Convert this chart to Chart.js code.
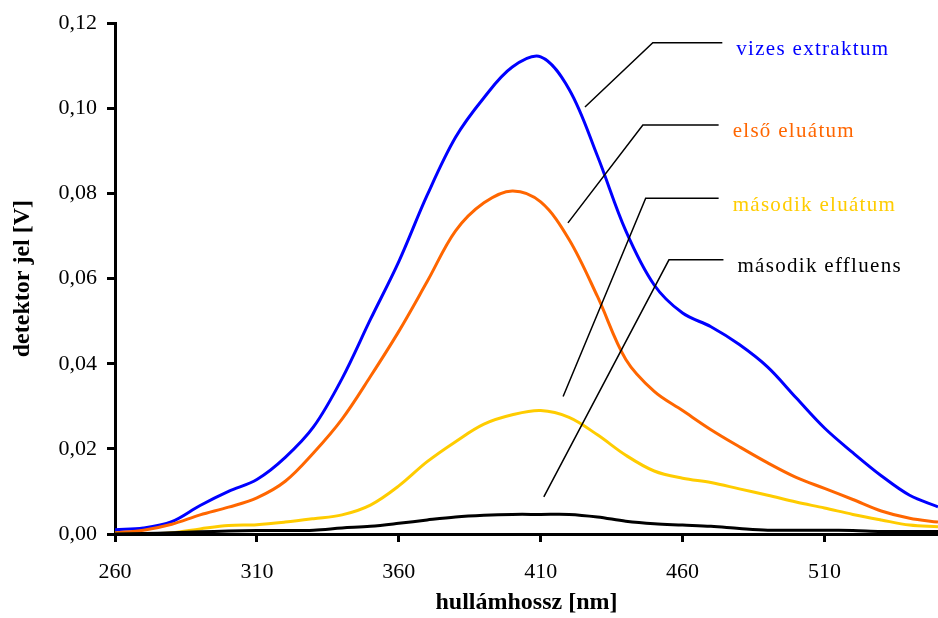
<!DOCTYPE html>
<html lang="hu">
<head>
<meta charset="utf-8">
<title>detektor jel</title>
<script src="https://cdn.jsdelivr.net/npm/chart.js@4/dist/chart.umd.min.js"></script>
<style>
  html, body { margin: 0; padding: 0; background: #fff; }
  #wrap { width: 938px; height: 618px; }
</style>
</head>
<body>
<div id="wrap"><canvas id="chart" width="938" height="618"></canvas></div>
<script>
// hullámhossz [nm]
const wavelengths = [260, 270, 280, 290, 300, 310, 320, 330, 340, 350, 360, 370, 380, 390, 400,
    410, 420, 430, 440, 450, 460, 470, 480, 490, 500, 510, 520, 530, 540, 550];

const vizesExtraktum = [0.0010, 0.0014, 0.0029, 0.0067, 0.0100, 0.0128, 0.0180, 0.0252, 0.0365, 0.0504,
    0.0640, 0.0796, 0.0932, 0.1025, 0.1097, 0.1121, 0.1045, 0.0888, 0.0712, 0.0585,
    0.0519, 0.0487, 0.0445, 0.0392, 0.0320, 0.0249, 0.0191, 0.0137, 0.0091, 0.0064];

const elsoEluatum = [0.0003, 0.0009, 0.0023, 0.0045, 0.0063, 0.0085, 0.0124, 0.0191, 0.0270, 0.0370,
    0.0476, 0.0593, 0.0712, 0.0778, 0.0806, 0.0780, 0.0692, 0.0558, 0.0410, 0.0335,
    0.0290, 0.0245, 0.0205, 0.0167, 0.0133, 0.0107, 0.0081, 0.0054, 0.0037, 0.0028];

const masodikEluatum = [0.0000, 0.0000, 0.0003, 0.0012, 0.0020, 0.0022, 0.0028, 0.0036, 0.0045, 0.0068,
    0.0113, 0.0170, 0.0217, 0.0258, 0.0280, 0.0290, 0.0274, 0.0233, 0.0185, 0.0148,
    0.0131, 0.0121, 0.0106, 0.0091, 0.0075, 0.0061, 0.0046, 0.0033, 0.0021, 0.0017];

const masodikEffluens = [0.0000, 0.0001, 0.0003, 0.0005, 0.0007, 0.0008, 0.0008, 0.0009, 0.0014, 0.0018,
    0.0025, 0.0033, 0.0040, 0.0044, 0.0046, 0.0046, 0.0046, 0.0040, 0.0030, 0.0024,
    0.0021, 0.0018, 0.0013, 0.0009, 0.0009, 0.0009, 0.0008, 0.0006, 0.0006, 0.0006];

const xTicks = [260, 310, 360, 410, 460, 510];
const yTicks = [0, 0.02, 0.04, 0.06, 0.08, 0.10, 0.12];

// callouts: label, colour, [start, bend, end] in data units
const callouts = [
    { text: 'vizes extraktum', color: '#0000ff', pts: [[425.6, 0.1003], [449.5, 0.1154], [474.0, 0.1154]] },
    { text: 'első eluátum', color: '#ff6600', pts: [[419.6, 0.0731], [446.0, 0.0961], [472.7, 0.0961]] },
    { text: 'második eluátum', color: '#ffcc00', pts: [[417.9, 0.0323], [447.0, 0.0789], [472.7, 0.0789]] },
    { text: 'második effluens', color: '#000000', pts: [[411.1, 0.0087], [455.2, 0.0644], [474.4, 0.0644]] }
];

const FONT = "'Liberation Serif', 'Times New Roman', serif";

function series(values, color) {
    return {
        data: wavelengths.map((w, i) => ({ x: w, y: values[i] })),
        borderColor: color,
        borderWidth: 3,
        pointRadius: 0,
        tension: 0.35,
        fill: false
    };
}

const calloutPlugin = {
    id: 'callouts',
    afterDatasetsDraw(chart) {
        const { ctx, scales: { x, y } } = chart;
        ctx.save();
        ctx.lineWidth = 1.5;
        ctx.strokeStyle = '#000';
        ctx.font = '21px ' + FONT;
        ctx.letterSpacing = '1.3px';
        ctx.textBaseline = 'middle';
        callouts.forEach(c => {
            ctx.beginPath();
            c.pts.forEach((p, i) => {
                const px = x.getPixelForValue(p[0]);
                const py = y.getPixelForValue(p[1]);
                if (i === 0) ctx.moveTo(px, py); else ctx.lineTo(px, py);
            });
            ctx.stroke();
            const end = c.pts[c.pts.length - 1];
            ctx.fillStyle = c.color;
            ctx.fillText(c.text, x.getPixelForValue(end[0]) + 14, y.getPixelForValue(end[1]) + 7);
        });
        ctx.restore();
    }
};

new Chart(document.getElementById('chart'), {
    type: 'line',
    data: {
        datasets: [
            series(masodikEffluens, '#000000'),
            series(masodikEluatum, '#ffcc00'),
            series(elsoEluatum, '#ff6600'),
            series(vizesExtraktum, '#0000ff')
        ]
    },
    options: {
        responsive: false,
        animation: false,
        layout: { padding: { top: 23, right: 0, bottom: 0, left: 0 } },
        plugins: { legend: { display: false }, tooltip: { enabled: false } },
        scales: {
            x: {
                type: 'linear',
                min: 260,
                max: 550,
                afterBuildTicks: s => { s.ticks = xTicks.map(v => ({ value: v })); },
                afterFit: s => { s.height = 84; },
                border: { display: true, color: '#000', width: 3 },
                grid: { drawOnChartArea: false, drawTicks: true, tickLength: 8, color: '#000', lineWidth: 3 },
                ticks: { color: '#000', padding: 17, maxRotation: 0, font: { family: FONT, size: 22 } },
                title: {
                    display: true,
                    text: 'hullámhossz [nm]',
                    color: '#000',
                    padding: { top: 0, bottom: 1 },
                    font: { family: FONT, size: 24, weight: 'bold' }
                }
            },
            y: {
                min: 0,
                max: 0.12,
                afterBuildTicks: s => { s.ticks = yTicks.map(v => ({ value: v })); },
                afterFit: s => { s.width = 115; },
                border: { display: true, color: '#000', width: 3 },
                grid: { drawOnChartArea: false, drawTicks: true, tickLength: 8, color: '#000', lineWidth: 3 },
                ticks: {
                    color: '#000',
                    padding: 10,
                    font: { family: FONT, size: 22 },
                    callback: v => v.toFixed(2).replace('.', ',')
                },
                title: {
                    display: true,
                    text: 'detektor jel [V]',
                    color: '#000',
                    padding: { top: 8, bottom: 0 },
                    font: { family: FONT, size: 24, weight: 'bold' }
                }
            }
        }
    },
    plugins: [calloutPlugin]
});
</script>
</body>
</html>
